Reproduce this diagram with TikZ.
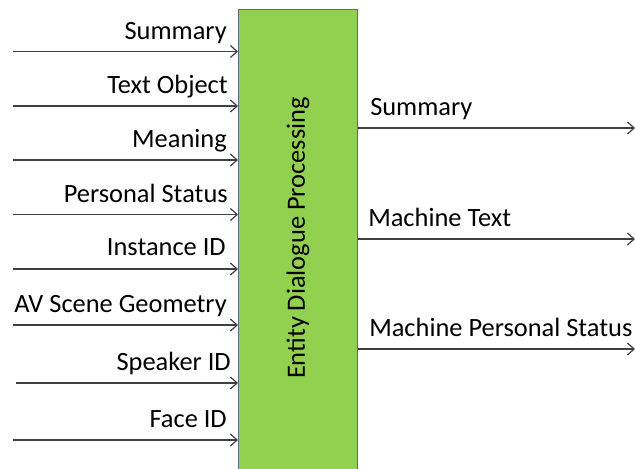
\documentclass[tikz,border=0pt]{standalone}
\usepackage{fontspec}
\setmainfont{Carlito}
\usetikzlibrary{arrows.meta}
\definecolor{boxgreen}{HTML}{92D050}
\definecolor{boxline}{HTML}{5B6B7B}
\definecolor{wire}{HTML}{404040}
\begin{document}
\begin{tikzpicture}[x=0.75pt,y=-0.75pt,
    wire/.style={draw=wire,line width=0.9pt,-{Straight Barb[length=5pt,width=9pt]}},
    lbl/.style={font=\fontsize{19.8}{22}\selectfont,inner sep=0pt}]

      \useasboundingbox (0,0) rectangle (635,468);

      \node[draw=boxline,fill=boxgreen,line width=0.8pt,minimum width=119*0.75pt,
        minimum height=470*0.75pt,anchor=north west,inner sep=0pt] (edp) at (238,9) {};
      \node[lbl,rotate=90] (title) at (298,238) {Entity Dialogue Processing};

      % inputs
      \begin{scope}[every node/.style={lbl,anchor=base east}]
        \coordinate (in1) at (13,51.5);
        \coordinate (in2) at (13,106);
        \coordinate (in3) at (13,160);
        \coordinate (in4) at (13,214.5);
        \coordinate (in5) at (13,269);
        \coordinate (in6) at (13,325);
        \coordinate (in7) at (16,383);
        \coordinate (in8) at (13,440);
        \node (sum)  at (227,39)  {Summary};
        \node (txt)  at (228,93)  {Text Object};
        \node (mean) at (227,147) {Meaning};
        \node (ps)   at (228,202) {Personal Status};
        \node (iid)  at (226,255) {Instance ID};
        \node (avs)  at (227,312) {AV Scene Geometry};
        \node (spk)  at (231,370) {Speaker ID};
        \node (face) at (227,427) {Face ID};
      \end{scope}

      \foreach \i in {1,...,8}
        \draw[wire] (in\i) -- (in\i -| edp.west);

      % outputs
      \begin{scope}[every node/.style={lbl,anchor=base west}]
        \coordinate (out1) at (635,128);
        \coordinate (out2) at (635,239);
        \coordinate (out3) at (635,349);
        \node (osum) at (370,115) {Summary};
        \node (otxt) at (368,226) {Machine Text};
        \node (ops)  at (369,336) {Machine Personal Status};
      \end{scope}

      \foreach \i in {1,2,3}
        \draw[wire] (out\i -| edp.east) -- (out\i);

    \end{tikzpicture}
\end{document}
